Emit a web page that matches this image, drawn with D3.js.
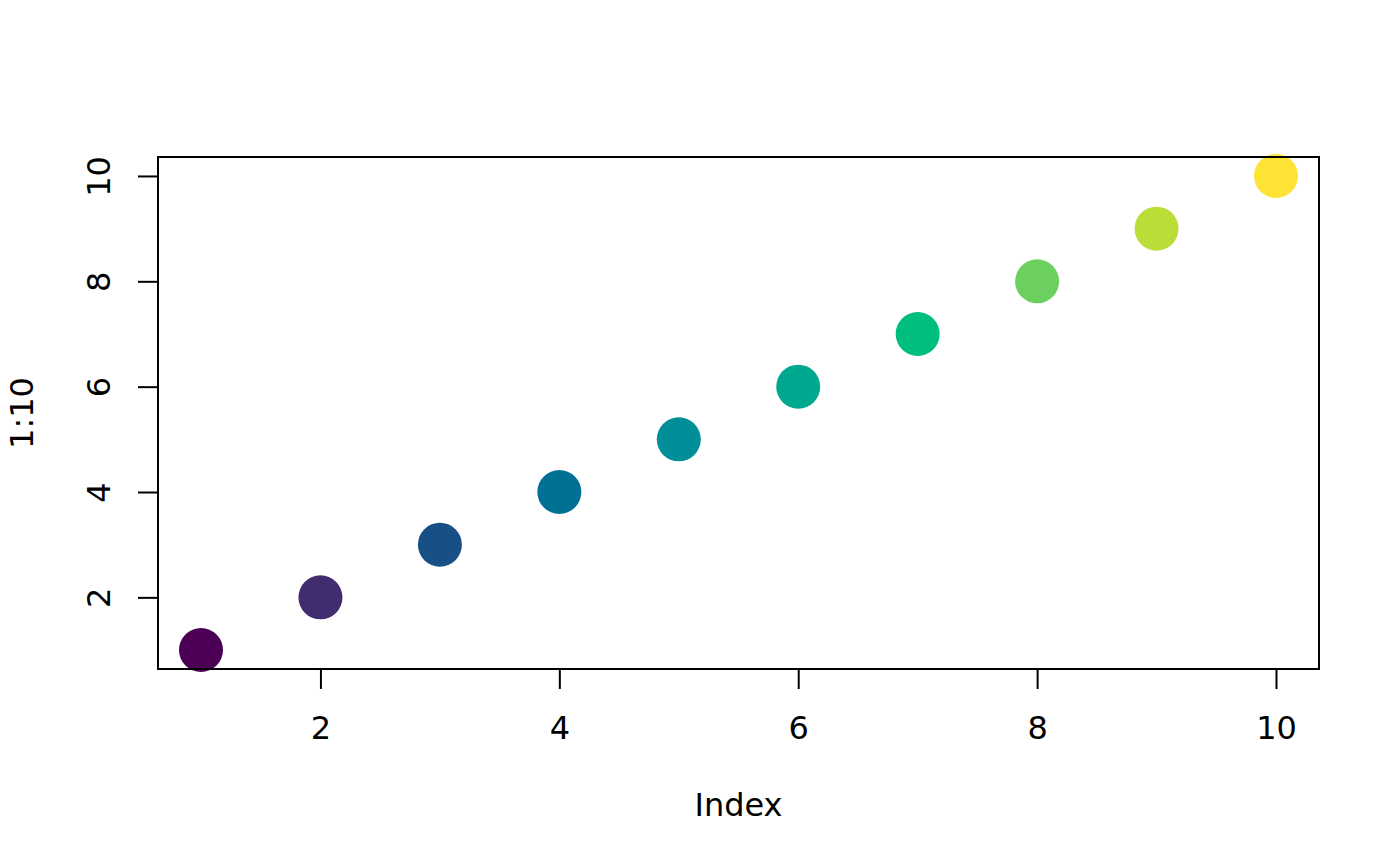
<!DOCTYPE html>
<html>
<head>
<meta charset="utf-8">
<script src="https://cdn.jsdelivr.net/npm/d3@7"></script>
<style>
  body { margin: 0; background: #fff; }
  text { font-family: "DejaVu Sans", sans-serif; fill: #000; }
</style>
</head>
<body>
<div id="chart"></div>
<script>
// data: plot(1:10, col = hcl.colors(10, "viridis"), pch = 19)
const index = [1, 2, 3, 4, 5, 6, 7, 8, 9, 10];
const values = [1, 2, 3, 4, 5, 6, 7, 8, 9, 10];
const colors = ["#4B0055", "#422C70", "#185086", "#007094", "#008E98",
                "#00A890", "#00BE7D", "#6CD05E", "#BBDD38", "#FDE333"];
const xTicks = [2, 4, 6, 8, 10];
const yTicks = [2, 4, 6, 8, 10];

const width = 1400, height = 866;
const box = {left: 158, right: 1319, top: 157, bottom: 669};
const fontSize = 32;

// R pads the data range by 4% on each side
const pad = a => { const e = d3.extent(a), d = (e[1] - e[0]) * 0.04; return [e[0] - d, e[1] + d]; };

const x = d3.scaleLinear().domain(pad(index)).range([box.left, box.right]);
const y = d3.scaleLinear().domain(pad(values)).range([box.bottom, box.top]);

const svg = d3.select("#chart").append("svg")
    .attr("width", width)
    .attr("height", height);

// points
svg.append("g").selectAll("circle")
    .data(index)
    .enter()
    .append("circle")
    .attr("cx", d => x(d))
    .attr("cy", (d, i) => y(values[i]))
    .attr("r", 22)
    .attr("fill", (d, i) => colors[i]);

// box
svg.append("rect")
    .attr("x", box.left)
    .attr("y", box.top)
    .attr("width", box.right - box.left)
    .attr("height", box.bottom - box.top)
    .attr("fill", "none")
    .attr("stroke", "#000")
    .attr("stroke-width", 2);

// x axis
const xAxis = svg.append("g")
    .attr("transform", `translate(0,${box.bottom})`)
    .call(d3.axisBottom(x).tickValues(xTicks).tickSize(20).tickFormat(d3.format("d")));
xAxis.select(".domain")
    .attr("d", `M${x(xTicks[0])},0H${x(xTicks[xTicks.length - 1])}`)
    .attr("stroke-width", 2);
xAxis.selectAll(".tick line").attr("stroke-width", 2);
xAxis.selectAll(".tick text")
    .attr("font-family", "DejaVu Sans")
    .attr("font-size", fontSize)
    .attr("dy", null)
    .attr("y", 70);

// y axis
const yAxis = svg.append("g")
    .attr("transform", `translate(${box.left},0)`)
    .call(d3.axisLeft(y).tickValues(yTicks).tickSize(20).tickFormat(d3.format("d")));
yAxis.select(".domain")
    .attr("d", `M0,${y(yTicks[0])}V${y(yTicks[yTicks.length - 1])}`)
    .attr("stroke-width", 2);
yAxis.selectAll(".tick line").attr("stroke-width", 2);
yAxis.selectAll(".tick text")
    .attr("font-family", "DejaVu Sans")
    .attr("font-size", fontSize)
    .attr("x", null)
    .attr("dy", null)
    .attr("text-anchor", "middle")
    .attr("transform", "translate(-48,0) rotate(-90)");

// axis titles
svg.append("text")
    .attr("x", (box.left + box.right) / 2)
    .attr("y", 816)
    .attr("text-anchor", "middle")
    .attr("font-size", fontSize)
    .text("Index");

svg.append("text")
    .attr("transform", `translate(33,${(box.top + box.bottom) / 2}) rotate(-90)`)
    .attr("text-anchor", "middle")
    .attr("font-size", fontSize)
    .text("1:10");
</script>
</body>
</html>
